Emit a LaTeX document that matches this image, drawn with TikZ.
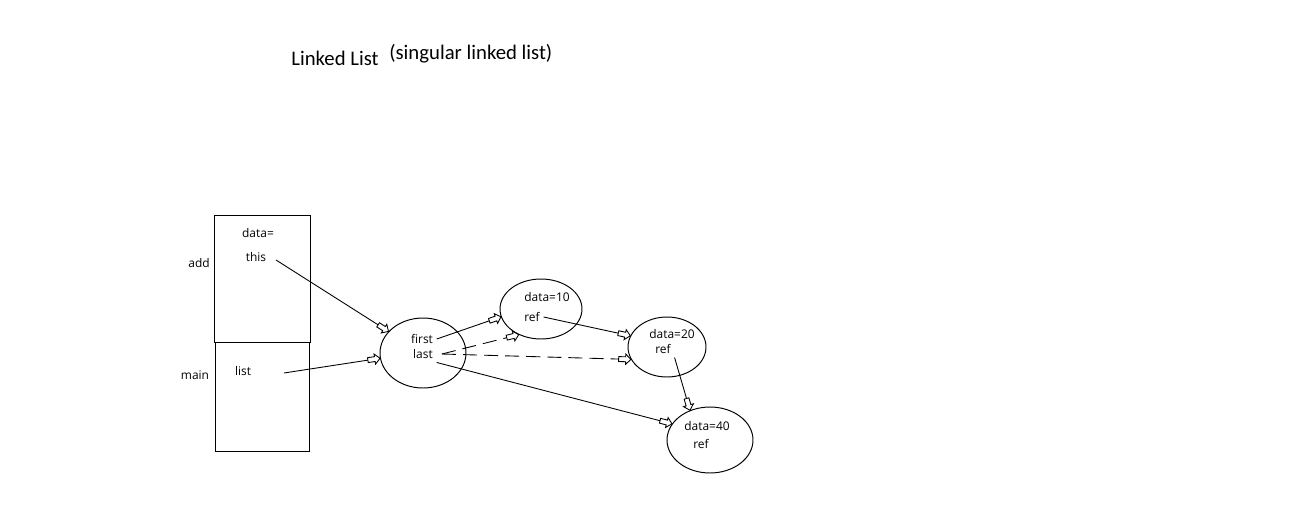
\documentclass[tikz,border=0pt]{standalone}
\usepackage{fontspec}
\setmainfont{Carlito}
\newfontfamily\lblfont{Open Sans}
\usetikzlibrary{shapes.geometric}
\usetikzlibrary{arrows.meta}
% hollow block arrow, as drawn in Paint
\pgfdeclarearrow{
    name=Blk,
    setup code={
        \pgfarrowssettipend{0pt}
        \pgfarrowssetlineend{-6.5pt}
        \pgfarrowssetbackend{-7pt}
        \pgfarrowssetvisualbackend{-7pt}
        \pgfarrowsupperhullpoint{0pt}{0pt}
        \pgfarrowsupperhullpoint{-3pt}{2.9pt}
        \pgfarrowsupperhullpoint{-7pt}{1.4pt}
    },
    drawing code={
        \pgfsetdash{}{0pt}
        \pgfsetfillcolor{white}
        \pgfpathmoveto{\pgfpoint{0pt}{0pt}}
        \pgfpathlineto{\pgfpoint{-3pt}{2.9pt}}
        \pgfpathlineto{\pgfpoint{-3pt}{1.4pt}}
        \pgfpathlineto{\pgfpoint{-7pt}{1.4pt}}
        \pgfpathlineto{\pgfpoint{-7pt}{-1.4pt}}
        \pgfpathlineto{\pgfpoint{-3pt}{-1.4pt}}
        \pgfpathlineto{\pgfpoint{-3pt}{-2.9pt}}
        \pgfpathclose
        \pgfusepathqfillstroke
    }
}
\tikzset{%
    ell/.style={draw, ellipse, inner sep=0pt, line width=0.55pt},
    lbl/.style={font=\lblfont\fontsize{6.8}{8}\selectfont, inner sep=2pt},
    ptr/.style={line width=0.5pt, -Blk},
    dptr/.style={ptr, dash pattern=on 8pt off 4pt}
}

\begin{document}
\begin{tikzpicture}[x=0.02cm, y=-0.02cm]
            \useasboundingbox (0,0) rectangle (1308,527);

            % title
            \node[anchor=base west, inner sep=0pt, font=\fontsize{11.8}{14}\selectfont] (title) at (291,66){Linked List};
            \node[anchor=base west, inner sep=0pt, font=\fontsize{11.8}{14}\selectfont] (sub) at (389,60){(singular linked list)};

            % draw the two stack frames, labels
            \draw[line width=0.5pt] (214,215) rectangle (310,342);
            \draw[line width=0.5pt] (215,342) rectangle (309,451);
            \node[lbl] (add) at (199,263){add};
            \node[lbl] (main) at (195,375){main};
            \node[lbl] (data) at (258,233){data=};
            \node[lbl] (this) at (256,257){this};
            \node[lbl] (list) at (243,371){list};
            \coordinate (thisout) at (276,260);
            \coordinate (listout) at (284,373);

            % list object
            \node[ell, minimum width=1.72cm, minimum height=1.40cm] (lst) at (423,353){};
            \node[lbl] (first) at (422,339){first};
            \node[lbl] (last) at (423,354){last};

            % list nodes
            \node[ell, minimum width=1.64cm, minimum height=1.20cm] (n10) at (541,309){};
            \node[lbl] (d10) at (547,297){data=10};
            \node[lbl] (r10) at (532,317){ref};

            \node[ell, minimum width=1.56cm, minimum height=1.20cm] (n20) at (667,347){};
            \node[lbl] (d20) at (672,334){data=20};
            \node[lbl] (r20) at (663,349){ref};

            \node[ell, minimum width=1.72cm, minimum height=1.32cm] (n40) at (710,440){};
            \node[lbl] (d40) at (707,426){data=40};
            \node[lbl] (r40) at (701,444){ref};

            % references
            \draw[ptr] (thisout) -- (lst.148);
            \draw[ptr] (listout) -- (lst.187);
            \draw[ptr] (first.east) -- (n10.191);
            \draw[ptr] (r10.east) -- (n20.163);
            \draw[ptr] (r20.south east) -- (n40.124);
            \draw[ptr] (last.south east) -- (n40.157);

            % old values of last
            \draw[dptr] ([xshift=3pt]last.east) -- (n10.229);
            \draw[dptr] ([xshift=3pt]last.east) -- (n20.199);
        \end{tikzpicture}
\end{document}
